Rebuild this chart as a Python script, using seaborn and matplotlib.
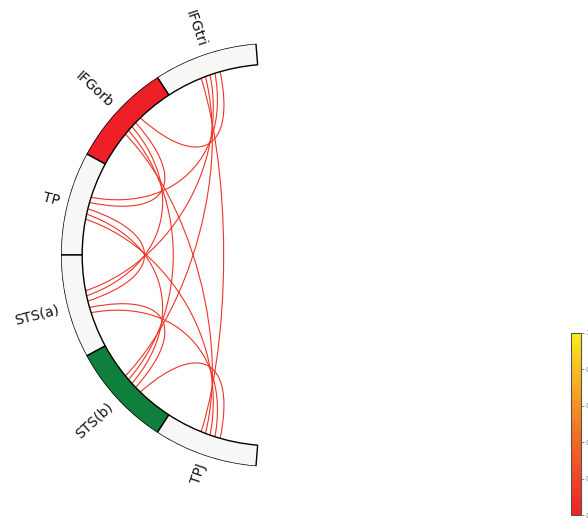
import numpy as np
import matplotlib
matplotlib.use("Agg")
import matplotlib.pyplot as plt
import matplotlib.path as mpath
import matplotlib.patches as mpatches
import seaborn as sns

sns.set_style("white")

## nodes (top to bottom on the left half of the ring)
node_names = ["IFGtri", "IFGorb", "TP", "STS(a)", "STS(b)", "TPJ"]
node_colors = ["#f7f7f5", "#ee1f26", "#f7f7f5", "#f7f7f5", "#0f7f3e", "#f7f7f5"]

## connections and their strength
con_src = ["IFGtri", "IFGtri", "IFGtri", "IFGtri", "IFGtri",
           "IFGorb", "IFGorb", "IFGorb", "IFGorb",
           "TP", "TP", "TP",
           "STS(a)", "STS(a)",
           "STS(b)"]
con_dst = ["IFGorb", "TP", "STS(a)", "STS(b)", "TPJ",
           "TP", "STS(a)", "STS(b)", "TPJ",
           "STS(a)", "STS(b)", "TPJ",
           "STS(b)", "TPJ",
           "TPJ"]
con_val = [0.1, 0.1, 0.1, 0.1, 0.1,
           0.1, 0.1, 0.1, 0.1,
           0.1, 0.1, 0.1,
           0.1, 0.1,
           0.1]
cbar_ticks = [0.0, 0.2, 0.4, 0.6, 0.8, 1.0]

cmap = sns.blend_palette(["#ec2227", "#f47a25", "#f9ee1d"], as_cmap=True)
norm = plt.Normalize(0.0, 1.0)

fig = plt.figure(figsize=(5.88, 5.19), dpi=100, facecolor="white")
ax = fig.add_axes([0.1037, 0.1002, 0.721, 0.817], polar=True)
ax.set_ylim(0, 10)
ax.set_axis_off()

# layout of the half ring
n = len(node_names)
start, stop = np.deg2rad(94.6), np.deg2rad(265.4)
node_width = (stop - start) / n
node_angles = start + node_width * (np.arange(n) + 0.5)
idx = {name: i for i, name in enumerate(node_names)}

# spread the line ends a little inside every node
ends = {i: [] for i in range(n)}
for k, (a, b) in enumerate(zip(con_src, con_dst)):
    ends[idx[a]].append((node_angles[idx[b]], k, 0))
    ends[idx[b]].append((node_angles[idx[a]], k, 1))
offsets = np.zeros((len(con_src), 2))
for i, lst in ends.items():
    lst.sort()
    spread = np.linspace(-np.deg2rad(3), np.deg2rad(3), len(lst))
    for off, (_, k, side) in zip(spread, lst):
        offsets[k, side] = off

for k, (a, b, v) in enumerate(zip(con_src, con_dst, con_val)):
    t0 = node_angles[idx[a]] + offsets[k, 0]
    t1 = node_angles[idx[b]] + offsets[k, 1]
    verts = [(t0, 10), (t0, 5), (t1, 5), (t1, 10)]
    codes = [mpath.Path.MOVETO, mpath.Path.CURVE4, mpath.Path.CURVE4, mpath.Path.CURVE4]
    patch = mpatches.PathPatch(mpath.Path(verts, codes), fill=False,
                               edgecolor=cmap(norm(v)), linewidth=0.8, zorder=0)
    ax.add_patch(patch)

ax.bar(node_angles, np.ones(n), width=node_width, bottom=9, align="center",
       color=node_colors, edgecolor="black", linewidth=1.0, zorder=2)

for name, ang in zip(node_names, node_angles):
    deg = np.rad2deg(ang) + 180
    ax.text(ang, 10.4, name, size=10, rotation=deg, rotation_mode="anchor",
            ha="right", va="center", color="#111111")

cax = fig.add_axes([0.971, 0.0077, 0.017, 0.351])
sm = plt.cm.ScalarMappable(norm=norm, cmap=cmap)
cb = fig.colorbar(sm, cax=cax, ticks=cbar_ticks)
cb.outline.set_edgecolor("#555555")
cb.outline.set_linewidth(0.8)
cax.tick_params(labelsize=5, colors="#777777", length=2, width=0.6, pad=1)

fig.savefig("out.png", dpi=100, facecolor="white")
